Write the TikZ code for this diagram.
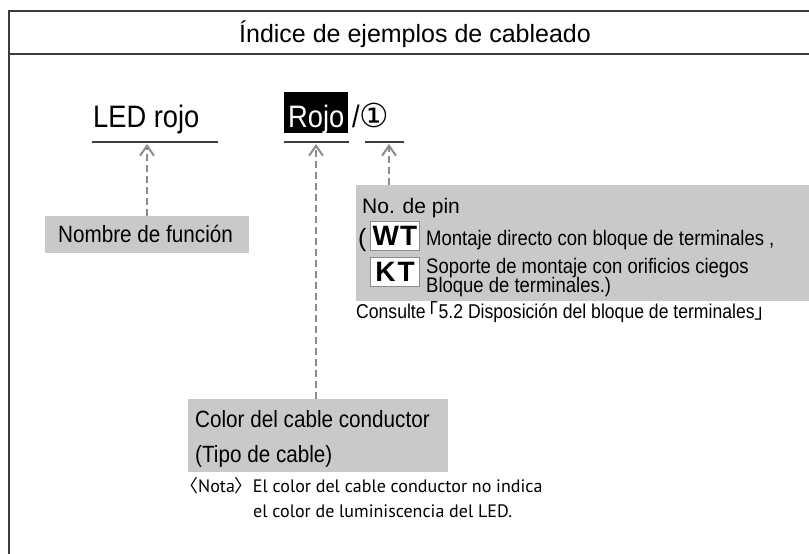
\documentclass[tikz,border=0pt]{standalone}
\usepackage{fontspec}
\setmainfont{Liberation Sans}
\newfontfamily\narrowfont{Liberation Sans}[FakeStretch=0.88]
\newfontfamily\notefont{PT Sans}
\newfontfamily\cjkfont{Noto Sans CJK JP}
\newfontfamily\symfont{DejaVu Sans}
\usetikzlibrary{arrows.meta}

\definecolor{boxgray}{RGB}{201,201,201}
\definecolor{pointgray}{RGB}{140,140,140}
\definecolor{framegray}{RGB}{60,60,60}

\begin{document}
\begin{tikzpicture}[x=1pt,y=-1pt,
	frame/.style={draw=framegray,line width=1.5pt},
	uline/.style={draw=framegray,line width=1.6pt},
	pointer/.style={draw=pointgray,line width=2.2pt,dash pattern=on 7pt off 4pt,
		-{Straight Barb[length=10pt,width=14pt,line width=2pt]}},
	graybox/.style={fill=boxgray,draw=boxgray,anchor=north west,inner sep=0pt},
	labeltext/.style={anchor=base west,inner sep=0pt,
		font=\narrowfont\fontsize{23.5}{35}\selectfont},
	pintext/.style={anchor=base west,inner sep=0pt,
		font=\narrowfont\fontsize{21}{19}\selectfont},
	codebox/.style={draw=pointgray,fill=white,line width=1pt,anchor=north west,
		inner sep=0pt,minimum width=49pt,minimum height=29pt,
		font=\bfseries\fontsize{28}{28}\selectfont}]
	\useasboundingbox (0,0) rectangle (809,554);

	% marco y titulo
	\draw[frame] (812,11) -- (9,11) -- (9,560);
	\draw[frame] (9,54) -- (812,54);
	\node[anchor=base,inner sep=0pt,font=\fontsize{25}{25}\selectfont] (title) at (415,42)
		{Índice de ejemplos de cableado};

	% ejemplo
	\node[anchor=base west,inner sep=0pt,font=\narrowfont\fontsize{31}{31}\selectfont] (led) at (93,127) {LED rojo};
	\node[fill=black,text=white,anchor=north west,inner xsep=0pt,inner ysep=0pt,minimum width=64pt,
		text height=35pt,text depth=6pt,
		font=\narrowfont\fontsize{31}{31}\selectfont] (rojo) at (284,92) {Rojo};
	\node[anchor=base west,inner sep=0pt,font=\narrowfont\fontsize{31}{31}\selectfont] (pin) at (352,127)
		{/\symfont\fontsize{33}{33}\selectfont ①};

	\draw[uline] (92,142) -- (218,142);
	\draw[uline] (284,142) -- (349,142);
	\draw[uline] (365,142) -- (404,142);

	\coordinate (tLED) at (147,144);
	\coordinate (tRojo) at (316,144);
	\coordinate (tPin) at (389,144);

	% Nombre de funcion
	\node[graybox,minimum width=203pt,minimum height=36pt] (fnbox) at (45,216) {};
	\node[labeltext] (fn) at (58,242) {Nombre de función};

	% No. de pin
	\node[graybox,minimum width=460pt,minimum height=115pt] (pinbox) at (356,185) {};
	\node[anchor=base west,inner sep=0pt,font=\fontsize{21}{21}\selectfont] (pinno) at (362,213) {No. de pin};
	\node[anchor=base west,inner sep=0pt,font=\fontsize{25}{25}\selectfont] (paren) at (358,246) {(};
	\node[codebox] (wt) at (370,221) {W\hspace{1pt}T};
	\node[codebox] (kt) at (370,257) {K\hspace{2pt}T};
	\node[pintext] (wtdesc) at (426,245) {Montaje directo con bloque de terminales ,};
	\node[pintext] (ktdesc) at (426,273) {Soporte de montaje con orificios ciegos};
	\node[pintext] (ktdesc2) at (426,292) {Bloque de terminales.)};
	\node[anchor=base west,inner sep=0pt,font=\narrowfont\fontsize{20}{20}\selectfont] (ref) at (356,318)
		{Consulte\hspace{-7pt}{\cjkfont 「}5.2 Disposición del bloque de terminales{\cjkfont 」}};

	% Color del cable
	\node[graybox,minimum width=259pt,minimum height=72pt] (colbox) at (188,399) {};
	\node[labeltext] (col) at (195,427) {Color del cable conductor};
	\node[labeltext] (tipo) at (195,462) {(Tipo de cable)};

	\node[anchor=base west,inner sep=0pt,font=\notefont\fontsize{18}{18}\selectfont] (nota) at (180,492)
		{{\cjkfont 〈}Nota{\cjkfont 〉}El color del cable conductor no indica};
	\node[anchor=base west,inner sep=0pt,font=\notefont\fontsize{18}{18}\selectfont] (nota2) at (253,517)
		{el color de luminiscencia del LED.};

	% flechas
	\draw[pointer] (fnbox.north -| tLED) -- (tLED);
	\draw[pointer] (colbox.north -| tRojo) -- (tRojo);
	\draw[pointer] (pinbox.north -| tPin) -- (tPin);
\end{tikzpicture}
\end{document}
